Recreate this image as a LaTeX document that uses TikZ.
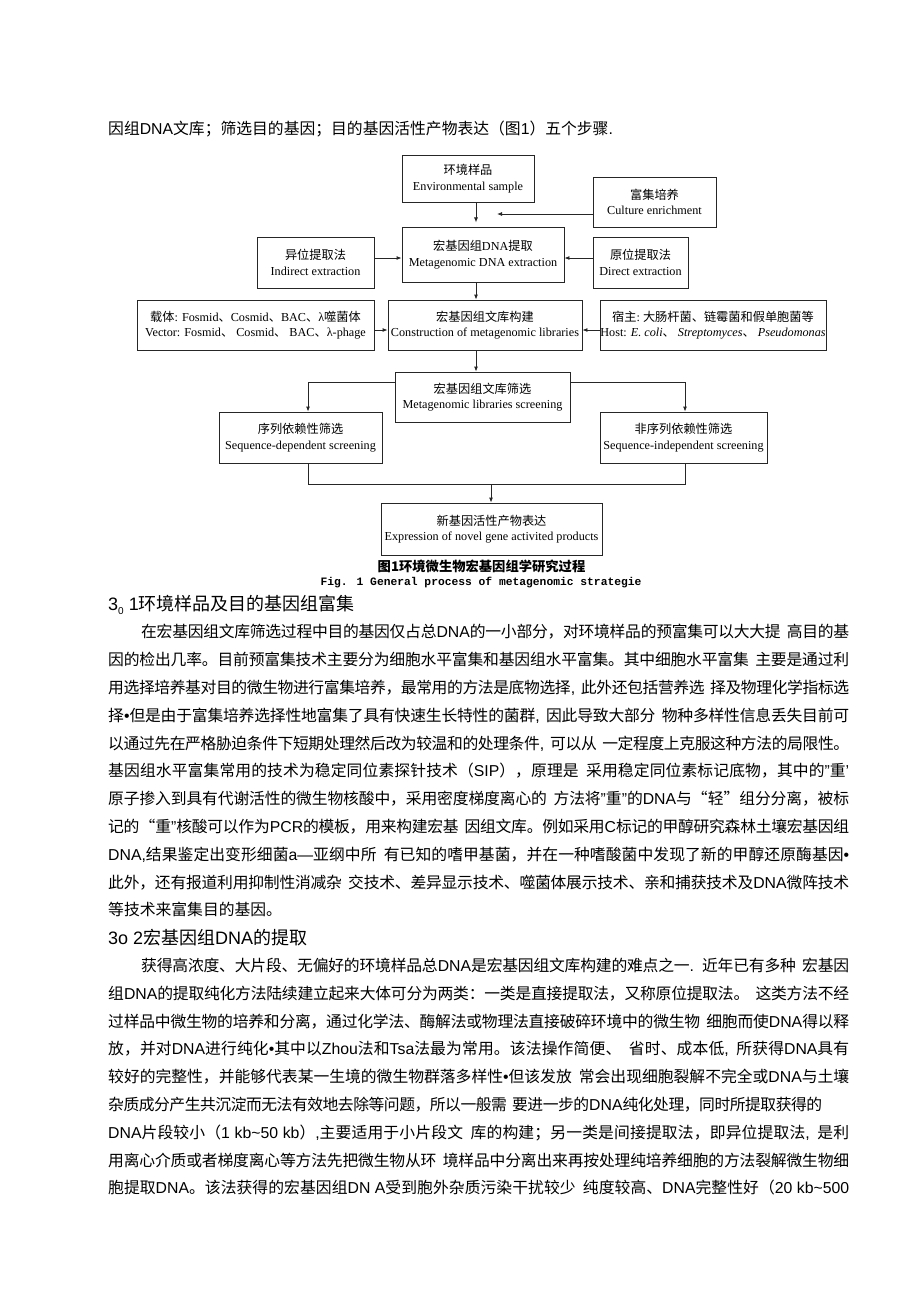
\documentclass[tikz,border=0pt]{standalone}
\usepackage{fontspec}
\setmainfont{Noto Sans CJK SC}[WordSpace=2]
\newfontfamily\ar{Liberation Sans}
\newfontfamily\tm{Liberation Serif}
\newfontfamily\cm{Liberation Mono}
\usetikzlibrary{arrows.meta}
% inter-character glue between CJK characters (for justified lines)
\XeTeXinterchartokenstate=1
\chardef\cjkcls=200
\newcount\cjkc
\cjkc="3001
\loop \XeTeXcharclass\cjkc=\cjkcls \ifnum\cjkc<"9FFF \advance\cjkc by 1 \repeat
\cjkc="FF01
\loop \XeTeXcharclass\cjkc=\cjkcls \ifnum\cjkc<"FF5E \advance\cjkc by 1 \repeat
\XeTeXinterchartoks\cjkcls\cjkcls={\hskip0pt plus 1pt minus 0.6pt\relax}
\newcommand\A[1]{{\ar #1}}
\newcommand\jl[4]{\node[body] (#1) at (#2,#3) {\makebox[\dimexpr 849pt-#2pt\relax][s]{#4}};}
\newcommand\nl[4]{\node[body] (#1) at (#2,#3) {#4};}
\tikzset{
  bx/.style={draw=black!85, line width=0.85pt, align=center, inner sep=0pt,
    font=\fontsize{12.2}{15.5}\selectfont},
  arr/.style={draw=black!85, line width=0.85pt, -{Latex[length=5pt,width=4pt]}},
  ln/.style={draw=black!85, line width=0.85pt},
  body/.style={anchor=base west, inner sep=0pt, font=\fontsize{15.8}{18}\selectfont},
  head/.style={anchor=base west, inner sep=0pt, font=\fontsize{18}{20}\selectfont},
}
\begin{document}
\begin{tikzpicture}[x=1pt,y=-1pt]
\fill[white] (0,0) rectangle (920,1302);
\useasboundingbox (0,0) rectangle (920,1302);

% top line
\nl{top}{108}{134}{因组\A{DNA}文库；筛选目的基因；目的基因活性产物表达（图\A{1}）五个步骤\A{.}}

% ---------- diagram ----------
\node[bx, minimum width=132pt, minimum height=47pt] (env) at (468,178.5) {环境样品\\{\tm Environmental sample}};
\node[bx, minimum width=123pt, minimum height=50pt] (culture) at (654.5,202) {富集培养\\{\tm Culture enrichment}};
\node[bx, minimum width=162pt, minimum height=55pt] (dna) at (483,254.5) {宏基因组{\tm DNA}提取\\{\tm Metagenomic DNA extraction}};
\node[bx, minimum width=117pt, minimum height=51pt] (indirect) at (315.5,262.5) {异位提取法\\{\tm Indirect extraction}};
\node[bx, minimum width=95pt, minimum height=51pt] (direct) at (640.5,262.5) {原位提取法\\{\tm Direct extraction}};
\node[bx, minimum width=237pt, minimum height=50pt] (vector) at (255.5,325) {载体{\tm : Fosmid}、{\tm Cosmid}、{\tm BAC}、{\tm λ}噬菌体\\{\tm Vector: Fosmid}、{\tm\ Cosmid}、{\tm\ BAC}、{\tm λ-phage}};
\node[bx, minimum width=194pt, minimum height=50pt] (constr) at (485,325) {宏基因组文库构建\\{\tm Construction of metagenomic libraries}};
\node[bx, minimum width=226pt, minimum height=50pt] (host) at (713,325) {宿主{\tm :}{\tm\ }大肠杆菌、链霉菌和假单胞菌等\\{\tm Host: \textit{E. coli}}、{\tm\ \textit{Streptomyces}}、{\tm\ \textit{Pseudomonas}}};
\node[bx, minimum width=175pt, minimum height=50pt] (screen) at (482.5,397) {宏基因组文库筛选\\{\tm Metagenomic libraries screening}};
\node[bx, minimum width=163pt, minimum height=51pt] (seqdep) at (300.5,437.5) {序列依赖性筛选\\{\tm Sequence-dependent screening}};
\node[bx, minimum width=167pt, minimum height=51pt] (seqind) at (683.5,437.5) {非序列依赖性筛选\\{\tm Sequence-independent screening}};
\node[bx, minimum width=221pt, minimum height=52pt] (expr) at (491.5,529) {新基因活性产物表达\\{\tm Expression of novel gene activited products}};

\coordinate (ax) at (476,0);
\coordinate (cend) at (497,214);
\coordinate (r2) at (0,258);
\coordinate (r3) at (0,330);
\coordinate (r4) at (0,382);
\coordinate (r5) at (0,484);
\coordinate (lx) at (308,0);
\coordinate (rx) at (685,0);
\coordinate (mx) at (491,0);

\draw[arr] (env.south -| ax) -- ++(0,20);
\draw[arr] (cend -| culture.west) -- (cend);
\draw[arr] (indirect.east |- r2) -- (dna.west |- r2);
\draw[arr] (direct.west |- r2) -- (dna.east |- r2);
\draw[arr] (dna.south -| ax) -- (constr.north -| ax);
\draw[arr] (vector.east |- r3) -- (constr.west |- r3);
\draw[arr] (host.west |- r3) -- (constr.east |- r3);
\draw[arr] (constr.south -| ax) -- (screen.north -| ax);
\draw[arr] (screen.west |- r4) -| (seqdep.north -| lx);
\draw[arr] (screen.east |- r4) -| (seqind.north -| rx);
\draw[ln] (seqdep.south -| lx) -- (lx |- r5) -- (rx |- r5) -- (seqind.south -| rx);
\draw[arr] (mx |- r5) -- (expr.north -| mx);

\node[font=\bfseries\fontsize{13.3}{15}\selectfont, inner sep=0pt] (cap1) at (481.5,566) {图1环境微生物宏基因组学研究过程};
\node[font=\cm\bfseries\fontsize{11.3}{13}\selectfont, inner sep=0pt] (cap2) at (481,583) {Fig. 1 General process of metagenomic strategie};

% ---------- body text ----------
\node[head] (h1) at (108,610.8) {\A{3\raisebox{-0.2em}{\fontsize{10}{10}\selectfont 0} 1}环境样品及目的基因组富集};
\jl{l1}{141}{637.8}{在宏基因组文库筛选过程中目的基因仅占总\A{DNA}的一小部分，对环境样品的预富集可以大大提 高目的基}
\jl{l2}{108}{665.6}{因的检出几率。目前预富集技术主要分为细胞水平富集和基因组水平富集。其中细胞水平富集 主要是通过利}
\jl{l3}{108}{693.4}{用选择培养基对目的微生物进行富集培养，最常用的方法是底物选择\A{,} 此外还包括营养选 择及物理化学指标选}
\jl{l4}{108}{721.2}{择\A{•}但是由于富集培养选择性地富集了具有快速生长特性的菌群\A{,} 因此导致大部分 物种多样性信息丢失目前可}
\jl{l5}{108}{749.0}{以通过先在严格胁迫条件下短期处理然后改为较温和的处理条件\A{,} 可以从 一定程度上克服这种方法的局限性。}
\jl{l6}{108}{776.8}{基因组水平富集常用的技术为稳定同位素探针技术（\A{SIP}），原理是 采用稳定同位素标记底物，其中的\A{”}重\A{’}}
\jl{l7}{108}{804.6}{原子掺入到具有代谢活性的微生物核酸中，采用密度梯度离心的 方法将\A{”}重\A{”}的\A{DNA}与“轻”组分分离，被标}
\jl{l8}{108}{832.4}{记的“重\A{”}核酸可以作为\A{PCR}的模板，用来构建宏基 因组文库。例如采用\A{C}标记的甲醇研究森林土壤宏基因组}
\jl{l9}{108}{860.2}{\A{DNA,}结果鉴定出变形细菌\A{a—}亚纲中所 有已知的嗜甲基菌，并在一种嗜酸菌中发现了新的甲醇还原酶基因\A{•}}
\jl{l10}{108}{888.0}{此外，还有报道利用抑制性消减杂 交技术、差异显示技术、噬菌体展示技术、亲和捕获技术及\A{DNA}微阵技术}
\nl{l11}{108}{915.8}{等技术来富集目的基因。}
\node[head] (h2) at (108,944.4) {\A{3o 2}宏基因组\A{DNA}的提取};
\jl{l13}{141}{971.4}{获得高浓度、大片段、无偏好的环境样品总\A{DNA}是宏基因组文库构建的难点之一\A{.} 近年已有多种 宏基因}
\jl{l14}{108}{999.2}{组\A{DNA}的提取纯化方法陆续建立起来大体可分为两类：一类是直接提取法，又称原位提取法。 这类方法不经}
\jl{l15}{108}{1027.0}{过样品中微生物的培养和分离，通过化学法、酶解法或物理法直接破碎环境中的微生物 细胞而使\A{DNA}得以释}
\jl{l16}{108}{1054.8}{放，并对\A{DNA}进行纯化\A{•}其中以\A{Zhou}法和\A{Tsa}法最为常用。该法操作简便、 省时、成本低\A{,} 所获得\A{DNA}具有}
\jl{l17}{108}{1082.6}{较好的完整性，并能够代表某一生境的微生物群落多样性\A{•}但该发放 常会出现细胞裂解不完全或\A{DNA}与土壤}
\node[body] (l18) at (108,1110.4) {\makebox[714pt][s]{杂质成分产生共沉淀而无法有效地去除等问题，所以一般需 要进一步的\A{DNA}纯化处理，同时所提取获得的}};
\jl{l19}{108}{1138.2}{\A{DNA}片段较小（\A{1 kb\textasciitilde 50 kb}）\A{,}主要适用于小片段文 库的构建；另一类是间接提取法，即异位提取法\A{,} 是利}
\jl{l20}{108}{1166.0}{用离心介质或者梯度离心等方法先把微生物从环 境样品中分离出来再按处理纯培养细胞的方法裂解微生物细}
\jl{l21}{108}{1193.8}{胞提取\A{DNA}。该法获得的宏基因组\A{DN A}受到胞外杂质污染干扰较少 纯度较高、\A{DNA}完整性好（\A{20 kb\textasciitilde 500}}
\end{tikzpicture}
\end{document}
